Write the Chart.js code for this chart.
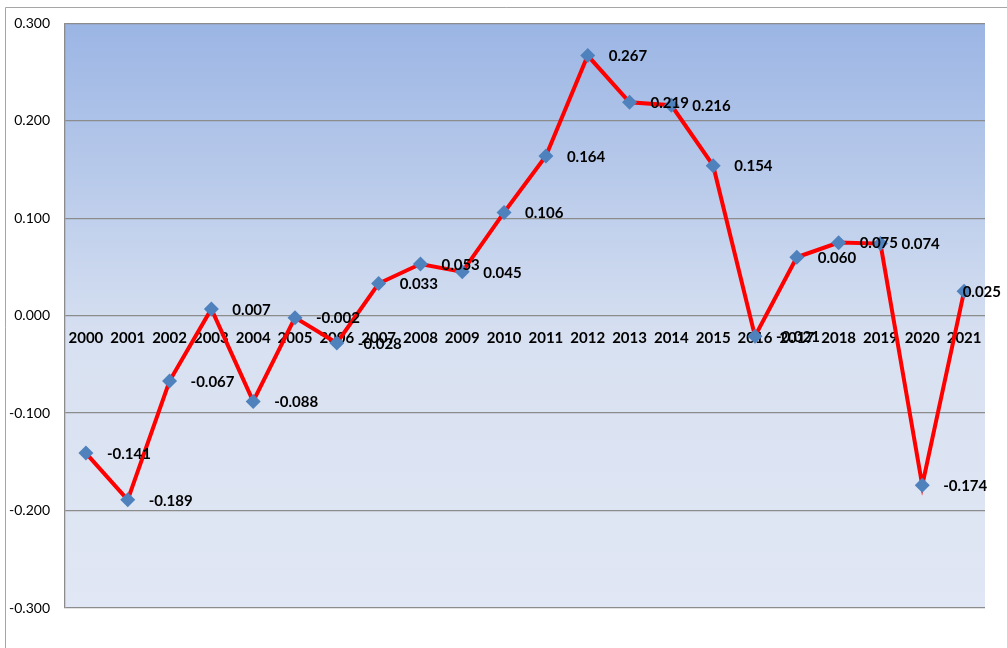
<!DOCTYPE html>
<html>
<head>
<meta charset="utf-8">
<script src="https://cdn.jsdelivr.net/npm/chart.js@4/dist/chart.umd.min.js"></script>
<style>
html,body{margin:0;padding:0;background:#fff;}
#wrap{width:1007px;height:648px;position:relative;}
</style>
</head>
<body>
<div id="wrap"><canvas id="c" width="1007" height="648"></canvas></div>
<script>
const years = ['2000','2001','2002','2003','2004','2005','2006','2007','2008','2009','2010','2011','2012','2013','2014','2015','2016','2017','2018','2019','2020','2021'];
const values = [-0.141,-0.189,-0.067,0.007,-0.088,-0.002,-0.028,0.033,0.053,0.045,0.106,0.164,0.267,0.219,0.216,0.154,-0.021,0.060,0.075,0.074,-0.174,0.025];
const yMin = -0.3, yMax = 0.3, yStep = 0.1;

const FONT = 'Lato, "Open Sans", sans-serif';

const bgPlugin = {
  id: 'bg',
  beforeDraw(chart) {
    const {ctx, chartArea: a} = chart;
    ctx.save();
    ctx.strokeStyle = '#a6a6a6';
    ctx.lineWidth = 1;
    ctx.beginPath();
    ctx.moveTo(5.5, 648); ctx.lineTo(5.5, 7.5); ctx.lineTo(1007, 7.5);
    ctx.stroke();
    const g = ctx.createLinearGradient(0, a.top, 0, a.bottom);
    g.addColorStop(0, '#9bb5e4');
    g.addColorStop(0.55, '#d8e1f1');
    g.addColorStop(1, '#e1e7f4');
    ctx.fillStyle = g;
    ctx.fillRect(a.left, a.top, a.right - a.left, a.bottom - a.top);
    ctx.restore();
  }
};

const labelPlugin = {
  id: 'vlabels',
  afterDatasetsDraw(chart) {
    const {ctx} = chart;
    const meta = chart.getDatasetMeta(0);
    ctx.save();
    ctx.font = 'bold 15px ' + FONT;
    ctx.fillStyle = '#000';
    ctx.textAlign = 'left';
    ctx.textBaseline = 'middle';
    meta.data.forEach((pt, i) => {
      const txt = values[i].toFixed(3);
      const w = ctx.measureText(txt).width;
      let x = pt.x + 21;
      if (x + w > chart.width - 6) x = chart.width - 6 - w;
      ctx.fillText(txt, x, pt.y + 1);
    });
    ctx.restore();
  }
};

new Chart(document.getElementById('c'), {
  type: 'line',
  data: {
    labels: years,
    datasets: [{
      data: values,
      borderColor: '#ff0000',
      borderWidth: 4,
      tension: 0,
      pointStyle: 'rectRot',
      pointRadius: 7.5,
      pointHoverRadius: 7.5,
      pointBackgroundColor: '#4f81bd',
      pointBorderColor: '#4f81bd',
      pointBorderWidth: 0
    }]
  },
  options: {
    responsive: false,
    animation: false,
    events: [],
    layout: {padding: {left: 0, right: 22, top: 23, bottom: 40}},
    plugins: {legend: {display: false}, tooltip: {enabled: false}},
    scales: {
      x: {
        type: 'category',
        offset: true,
        position: {y: 0},
        grid: {display: false, drawTicks: false},
        border: {display: false},
        ticks: {
          color: '#000',
          font: {family: FONT, size: 15, weight: 'bold'},
          padding: 13,
          maxRotation: 0,
          autoSkip: false
        }
      },
      y: {
        min: yMin, max: yMax,
        grid: {color: '#8c8c8c', lineWidth: 1.3, drawTicks: false},
        border: {display: true, color: '#8c8c8c', width: 1.3},
        ticks: {
          stepSize: yStep,
          color: '#000',
          font: {family: FONT, size: 14},
          padding: 15,
          callback: v => Number(v).toFixed(3)
        },
        afterFit(s) { s.width = 65; }
      }
    }
  },
  plugins: [bgPlugin, labelPlugin]
});
</script>
</body>
</html>
